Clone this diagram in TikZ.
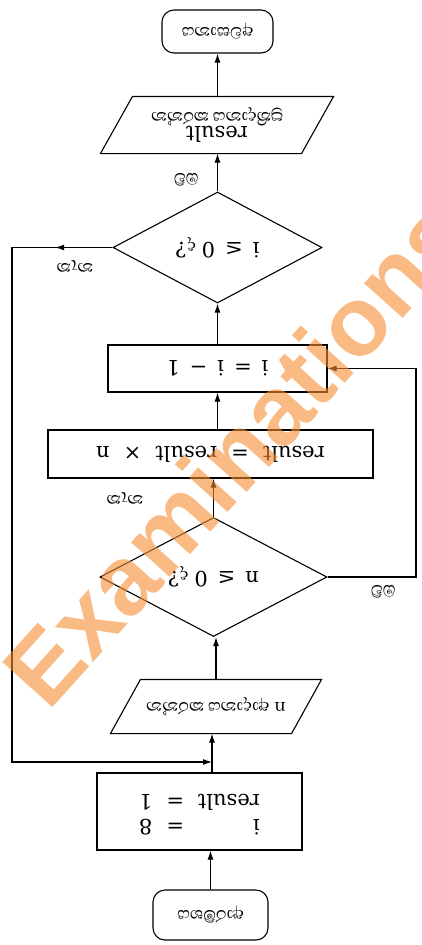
\documentclass[tikz,border=0pt]{standalone}
\usepackage{fontspec}
\setmainfont{DejaVu Serif}
\setsansfont{Liberation Sans}
\newfontfamily\sinhalafont[Script=Sinhala]{Abhaya Libre}
\usetikzlibrary{shapes.geometric,arrows.meta,calc}

% the whole chart is printed upside down
\newcommand\turned[1]{\rotatebox[origin=c]{180}{#1}}
\newcommand\latf{\fontsize{21}{25}\selectfont}
\newcommand\sinf{\sinhalafont\fontsize{21}{24}\selectfont}
\newcommand\gap{\hspace{10pt}}

\definecolor{wm}{RGB}{245,140,50}

\begin{document}
\begin{tikzpicture}[x=1pt,y=-1pt,
  line width=1.1pt,
  box/.style={draw,rectangle,inner sep=0pt},
  term/.style={draw,rectangle,rounded corners=12pt,inner sep=0pt},
  dia/.style={draw,diamond,aspect=2,inner sep=0pt},
  io/.style={rectangle,inner sep=0pt},
  arr/.style={-{Latex[length=9pt,width=6pt]}},
  lbl/.style={inner sep=1pt,font=\sinf},
]
\useasboundingbox (0,0) rectangle (422,945);

% terminals
\node[term,minimum width=111pt,minimum height=43pt,font=\sinf] (stop) at (217.5,31.5) {\turned{අවසානය}};
\node[term,minimum width=115pt,minimum height=50pt,font=\sinf] (start) at (210.5,915) {\turned{ආරම්භය}};

% output
\node[io,minimum width=200pt,minimum height=56pt] (out) at (217,125)
  {\turned{\begin{tabular}{@{}c@{}}{\latf result}\\[-4pt]{\sinf ප්^^^^200dරතිදානය කරන්න}\end{tabular}}};
\draw ($(out.south west)+(-16,0)$) -- ($(out.south east)+(-16,0)$)
   -- ($(out.north east)+(16,0)$) -- ($(out.north west)+(16,0)$) -- cycle;

% decisions
\node[dia,minimum width=209pt,minimum height=111pt] (idia) at (217.5,247.5)
  {\turned{\latf i\gap≤\gap0\hspace{6pt}{\sinf ද}?}};
\node[dia,minimum width=227pt,minimum height=119pt] (ndia) at (213.5,577)
  {\turned{\latf n\gap≤\gap0\hspace{6pt}{\sinf ද}?}};

% processes
\node[box,minimum width=219pt,minimum height=47pt] (dec) at (217.5,368.5)
  {\turned{\latf i\gap=\gap i\gap−\gap1}};
\node[box,minimum width=325pt,minimum height=48pt] (mul) at (210.5,454)
  {\turned{\latf result\hspace{14pt}=\hspace{14pt}result\hspace{14pt}×\hspace{14pt}n}};
\node[box,minimum width=205pt,minimum height=77pt] (init) at (199.5,811.5)
  {\turned{\latf\begin{tabular}{@{}l@{\hspace{14pt}}c@{\hspace{14pt}}l@{}}i&=&8\\result&=&1\end{tabular}}};

% input
\node[io,minimum width=180pt,minimum height=53pt,font=\sinf] (inp) at (216,706.5)
  {\turned{{\latf n}\hspace{5pt}ආදානය කරන්න}};
\draw ($(inp.south west)+(-15,0)$) -- ($(inp.south east)+(-15,0)$)
   -- ($(inp.north east)+(15,0)$) -- ($(inp.north west)+(15,0)$) -- cycle;

% main flow
\coordinate (join) at (212,762);
\draw[arr] (start.north) -- (start.north |- init.south);
\draw (join |- init.north) -- (join);
\draw[arr] (join) -- (join |- inp.south);
\draw[arr] (inp.north) -- (inp.north |- ndia.south);
\draw[arr] (ndia.north) -- (ndia.north |- mul.south);
\draw[arr] (dec.south |- mul.north) -- (dec.south);
\draw[arr] (dec.north) -- (dec.north |- idia.south);
\draw[arr] (idia.north) -- (idia.north |- out.south);
\draw[arr] (stop.south |- out.north) -- (stop.south);

% loop back from the n test
\coordinate (rx) at (416,0);
\draw[arr] (ndia.east) -- (ndia.east -| rx) -- (dec.east -| rx) -- (dec.east);

% loop back from the i test
\coordinate (lx) at (12,762);
\draw[arr] (idia.west) -- (idia.west -| lx) -- (lx) -- (join);
\draw[arr] (idia.west) -- ($(idia.west)!0.57!(idia.west -| lx)$);

% branch labels
\node[lbl] (yes1) at (186,180) {\turned{ඔව්}};
\node[lbl] (no1) at (75,266) {\turned{නැත}};
\node[lbl] (no2) at (125,498) {\turned{නැත}};
\node[lbl] (yes2) at (383,592) {\turned{ඔව්}};

% watermark
\node[font=\sffamily\bfseries\fontsize{98}{98}\selectfont,text=wm,opacity=0.6,rotate=48,inner sep=0pt] (wmark) at (236,452) {Examinations};
\end{tikzpicture}
\end{document}
